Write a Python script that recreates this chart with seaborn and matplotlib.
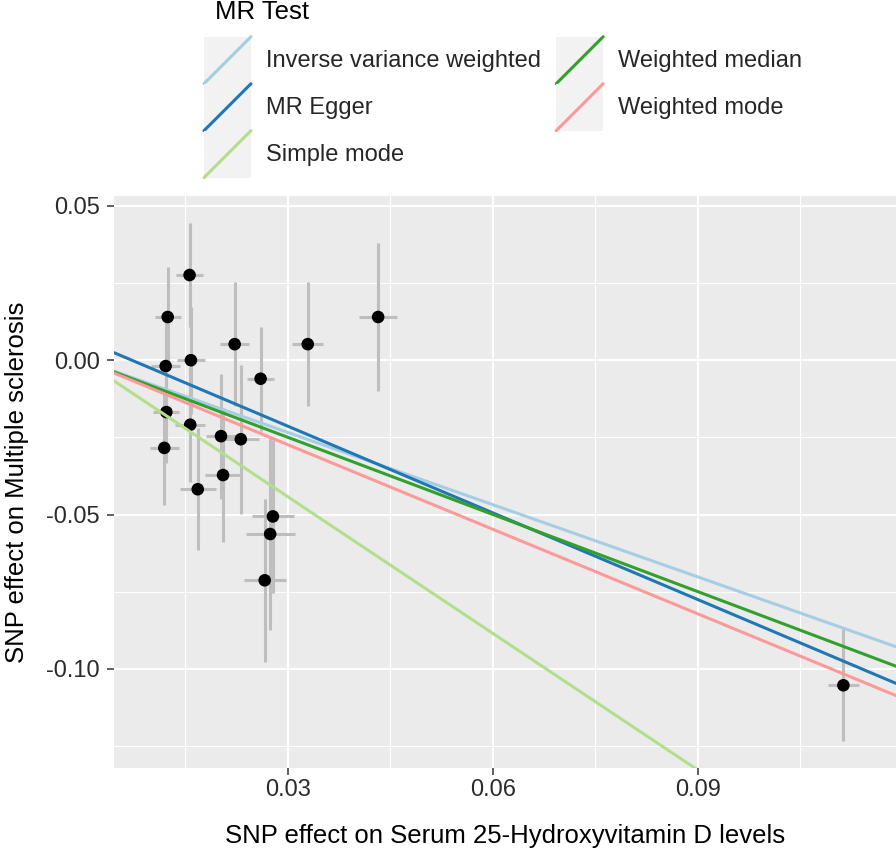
import numpy as np
import pandas as pd
import matplotlib
matplotlib.use("Agg")
import matplotlib.pyplot as plt
import seaborn as sns
from matplotlib.legend_handler import HandlerBase
from matplotlib.patches import Rectangle
from matplotlib.lines import Line2D
from matplotlib.ticker import MultipleLocator, FormatStrFormatter

# ---- data ----
snp_x = [0.0156, 0.0124, 0.0222, 0.0329, 0.0432, 0.0121, 0.0158, 0.0260, 0.0122, 0.0157,
         0.0202, 0.0231, 0.0119, 0.0205, 0.0168, 0.0278, 0.0274, 0.0266, 0.1113]
snp_y = [0.0276, 0.0140, 0.0052, 0.0052, 0.0140, -0.0019, 0.0000, -0.0060, -0.0168, -0.0209,
         -0.0246, -0.0256, -0.0284, -0.0372, -0.0418, -0.0506, -0.0563, -0.0713, -0.1053]
se_x = [0.0020, 0.0019, 0.0021, 0.0023, 0.0028, 0.0021, 0.0021, 0.0020, 0.0019, 0.0022,
        0.0022, 0.0026, 0.0021, 0.0026, 0.0026, 0.0031, 0.0036, 0.0031, 0.0023]
se_y = [0.0168, 0.0163, 0.0200, 0.0200, 0.0239, 0.0168, 0.0174, 0.0169, 0.0165, 0.0186,
        0.0202, 0.0242, 0.0184, 0.0218, 0.0197, 0.0248, 0.0311, 0.0264, 0.0181]

methods = ["Inverse variance weighted", "MR Egger", "Simple mode",
           "Weighted median", "Weighted mode"]
slopes = [-0.780, -0.936, -1.475, -0.833, -0.913]
intercepts = [0.0, 0.0067, 0.0, 0.0, 0.0]
colors = ["#A6CEE3", "#1F78B4", "#B2DF8A", "#33A02C", "#FB9A99"]

xlabel = "SNP effect on Serum 25-Hydroxyvitamin D levels"
ylabel = "SNP effect on Multiple sclerosis"
legend_title = "MR Test"

# ---- style ----
sns.set_theme(style="darkgrid")
plt.rcParams["font.family"] = ["Liberation Sans", "DejaVu Sans"]
plt.rcParams["axes.unicode_minus"] = False

W, H = 896, 851
fig = plt.figure(figsize=(W / 100, H / 100), dpi=100)
fig.patch.set_facecolor("white")
pl, pr, pt, pb = 114, 896, 196, 768
ax = fig.add_axes([pl / W, (H - pb) / H, (pr - pl) / W, (pb - pt) / H])
xlim = (0.00454, 0.1190)
ylim = (-0.1321, 0.0532)

ax.errorbar(snp_x, snp_y, xerr=se_x, yerr=se_y, fmt="none", ecolor="#BEBEBE",
            elinewidth=2.2, capsize=0, zorder=2)
sns.scatterplot(x=snp_x, y=snp_y, color="black", s=82, edgecolor="none",
                ax=ax, zorder=3, legend=False)

rows = []
for m, b, a in zip(methods, slopes, intercepts):
    for xv in xlim:
        rows.append({"method": m, "x": xv, "y": a + b * xv})
line_df = pd.DataFrame(rows)
sns.lineplot(data=line_df, x="x", y="y", hue="method", hue_order=methods,
             palette=dict(zip(methods, colors)), estimator=None, sort=False,
             linewidth=2.2, ax=ax, zorder=4)

ax.set_xlim(*xlim)
ax.set_ylim(*ylim)
ax.set_facecolor("#EBEBEB")
ax.set_axisbelow(True)
ax.xaxis.set_major_locator(MultipleLocator(0.03))
ax.xaxis.set_minor_locator(MultipleLocator(0.015))
ax.yaxis.set_major_locator(MultipleLocator(0.05))
ax.yaxis.set_minor_locator(MultipleLocator(0.025))
ax.xaxis.set_major_formatter(FormatStrFormatter("%.2f"))
ax.yaxis.set_major_formatter(FormatStrFormatter("%.2f"))
ax.grid(which="major", color="white", linewidth=1.5)
ax.grid(which="minor", color="white", linewidth=0.75)
for s in ax.spines.values():
    s.set_visible(False)
ax.tick_params(axis="both", which="major", length=4.8, width=1.1, color="#333333",
               labelsize=17, labelcolor="#2b2b2b", bottom=True, left=True)
ax.tick_params(axis="x", which="major", pad=3)
ax.tick_params(axis="y", which="major", pad=5.5)
ax.tick_params(which="minor", length=0)

ax.set_xlabel(xlabel, fontsize=18.5, color="black")
ax.set_ylabel(ylabel, fontsize=18.5, color="black")
ax.xaxis.label.set_va("center")
ax.yaxis.label.set_va("center")
ax.xaxis.set_label_coords((505 - pl) / (pr - pl), (pb - 836) / (pb - pt))
ax.yaxis.set_label_coords((17 - pl) / (pr - pl), 0.5)

# ---- legend ----
class DiagHandler(HandlerBase):
    def create_artists(self, legend, orig_handle, xdescent, ydescent, width,
                       height, fontsize, trans):
        bg = Rectangle((-xdescent, -ydescent), width, height, facecolor="#F2F2F2",
                       edgecolor="none", transform=trans)
        ln = Line2D([-xdescent, -xdescent + width], [-ydescent, -ydescent + height],
                    color=orig_handle.get_color(), lw=2.2, transform=trans)
        return [bg, ln]

handles, labels = ax.get_legend_handles_labels()
if ax.get_legend() is not None:
    ax.get_legend().remove()
fig.legend(handles, labels, handler_map={Line2D: DiagHandler()},
           loc="upper left", bbox_to_anchor=(204 / W, 1 - 36.7 / H), ncol=2,
           frameon=False, borderpad=0, borderaxespad=0, handlelength=1.99,
           handleheight=2.685, handletextpad=0.64, columnspacing=0.64,
           labelspacing=0, fontsize=17)
fig.text(215 / W, 1 - 19.3 / H, legend_title, fontsize=18.5, ha="left",
         va="baseline", color="black")

fig.savefig("out.png", dpi=100)
